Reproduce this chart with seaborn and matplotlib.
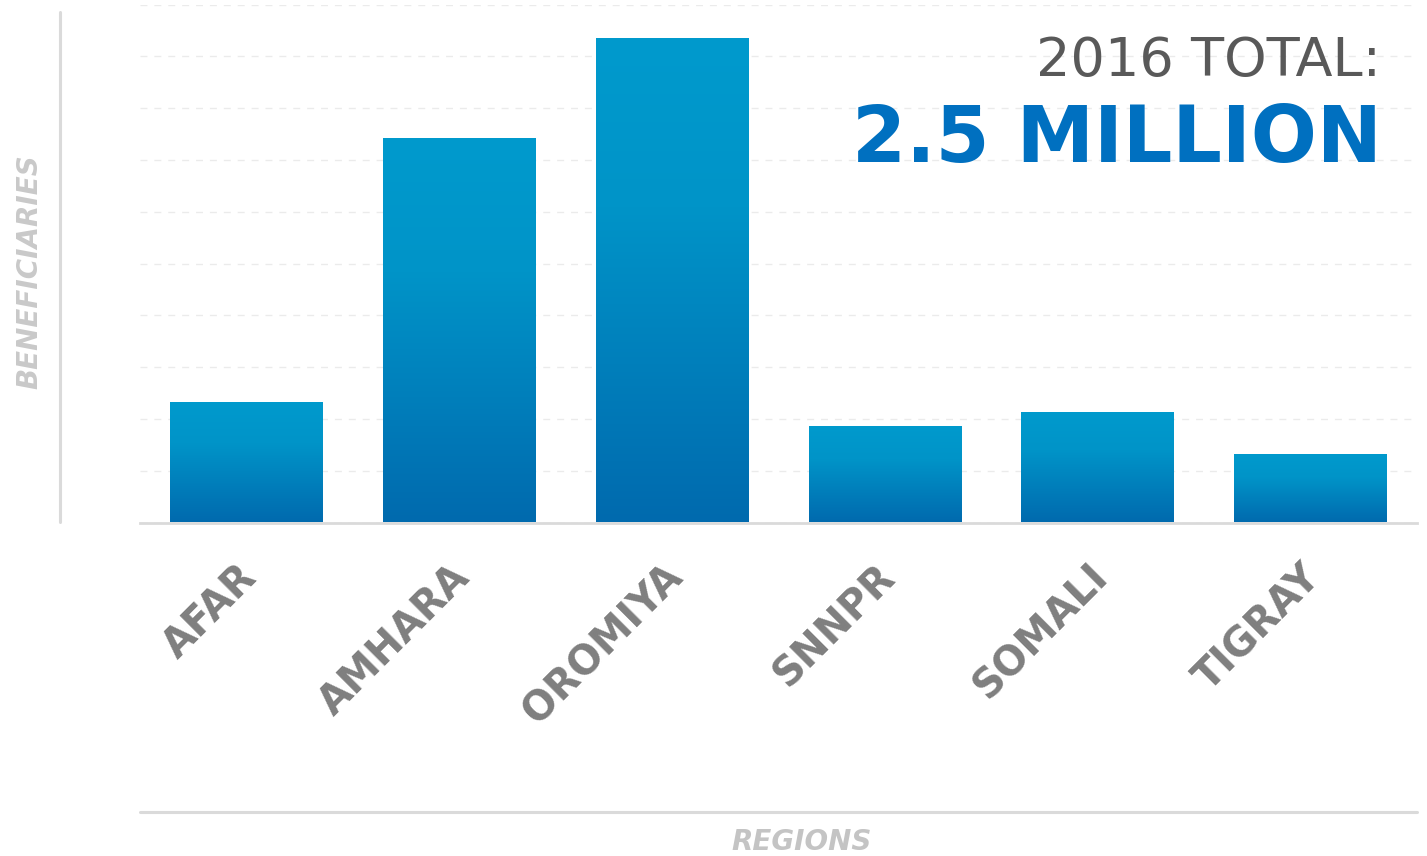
import numpy as np
import pandas as pd
import matplotlib
matplotlib.use("Agg")
import matplotlib.pyplot as plt
import matplotlib.transforms as mtransforms
from matplotlib.colors import LinearSegmentedColormap
from matplotlib.lines import Line2D
import seaborn as sns

# ---------------------------
# DATA
# ---------------------------
regions = ["AFAR", "AMHARA", "OROMIYA", "SNNPR", "SOMALI", "TIGRAY"]
beneficiaries = [232000, 742000, 935000, 187000, 214000, 133000]
total_label = "2016 TOTAL:"
total_value = "2.5 MILLION"

W, H = 1427, 856

sns.set_theme(style="white")
plt.rcParams["font.family"] = ["DejaVu Sans"]

df = pd.DataFrame({"Region": regions, "Beneficiaries": beneficiaries})

fig = plt.figure(figsize=(W / 100, H / 100), dpi=100)
ax = fig.add_axes([140 / W, 1 - 522.5 / H, 1277 / W, 518 / H])

sns.barplot(data=df, x="Region", y="Beneficiaries", ax=ax, width=0.718,
            color="#0088c4", saturation=1, zorder=2)

ax.set_xlim(-0.5, len(regions) - 0.5)
ax.set_ylim(0, 1_000_000)
ax.set_yticks(np.arange(0, 1_000_001, 100_000))
ax.set_yticklabels([])
ax.tick_params(axis="both", length=0)
ax.yaxis.grid(True, color="#ebebeb", linestyle=(0, (5, 5)), linewidth=1, zorder=0)
ax.xaxis.grid(False)
ax.set_axisbelow(True)
for side in ["top", "right", "left"]:
    ax.spines[side].set_visible(False)
ax.spines["bottom"].set_color("#dadada")
ax.spines["bottom"].set_linewidth(2)
ax.set_xlabel("")
ax.set_ylabel("")

# gradient fill for each bar
grad = LinearSegmentedColormap.from_list(
    "bar", [(0, "#006aae"), (0.65, "#0094c8"), (1, "#009acd")])
gimg = np.linspace(0, 1, 256).reshape(-1, 1)
for p in ax.patches:
    x0, y0 = p.get_x(), p.get_y()
    w, h = p.get_width(), p.get_height()
    p.set_facecolor("none")
    p.set_edgecolor("none")
    im = ax.imshow(gimg, cmap=grad, aspect="auto", origin="lower",
                   extent=[x0, x0 + w, y0, y0 + h], zorder=2)
    im.set_clip_path(p)

# rotated region labels
ax.tick_params(axis="x", pad=25)
offset = mtransforms.ScaledTranslation(-7 / 72, 0, fig.dpi_scale_trans)
for lab in ax.get_xticklabels():
    lab.set_rotation(45)
    lab.set_ha("right")
    lab.set_rotation_mode("anchor")
    lab.set_fontsize(28.5)
    lab.set_fontweight("bold")
    lab.set_color("#7f7f7f")
    lab.set_transform(lab.get_transform() + offset)

# frame lines outside the axes
fig.add_artist(Line2D([60 / W, 60 / W], [1 - 12 / H, 1 - 522 / H],
                      color="#dadada", linewidth=2.2))
fig.add_artist(Line2D([140 / W, 1417 / W], [1 - 812 / H, 1 - 812 / H],
                      color="#dadada", linewidth=2.2))

# axis titles
fig.text(29 / W, 1 - 272 / H, "BENEFICIARIES", rotation=90, ha="center",
         va="center", fontsize=20, fontweight="bold", fontstyle="italic",
         color="#c9c9c9")
fig.text(802 / W, 1 - 842 / H, "REGIONS", ha="center", va="center",
         fontsize=20, fontweight="bold", fontstyle="italic", color="#c4c4c4")

# total annotation
fig.text(1381 / W, 1 - 76 / H, total_label, ha="right", va="baseline",
         fontsize=39, color="#595959")
fig.text(1382 / W, 1 - 162 / H, total_value, ha="right", va="baseline",
         fontsize=56, fontweight="bold", color="#0070c0")

fig.savefig("out.png", dpi=100, facecolor="white")
